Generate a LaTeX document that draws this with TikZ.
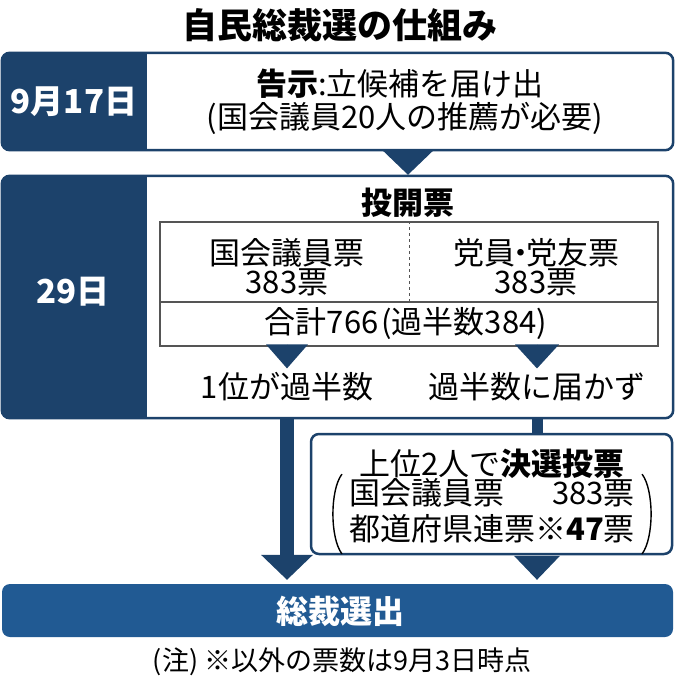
\documentclass[tikz,border=0pt]{standalone}
\usepackage{fontspec}
\setmainfont{Noto Sans CJK JP}
\usepackage{xcolor}
\usetikzlibrary{arrows.meta}
\definecolor{azulosc}{HTML}{1C426B}
\definecolor{azulmed}{HTML}{215A93}
\definecolor{gris}{HTML}{555555}

\begin{document}
\begin{tikzpicture}[x=1pt,y=-1pt,
  txt/.style={font=\fontsize{31}{29}\selectfont, inner sep=0pt, align=center},
  dia/.style={font=\bfseries\fontsize{33}{34}\selectfont, text=white, inner sep=0pt},
  caja/.style={draw=azulosc, line width=2.5pt, rounded corners=8pt},
  flecha/.style={draw=azulosc, line width=0.01pt, -{Triangle[width=#1,length=24pt,line width=0pt]}},
  flecha/.default=48pt]
\useasboundingbox (0,0) rectangle (680,680);

% Título
\node[font=\bfseries\fontsize{35}{36}\selectfont, inner sep=0pt] (titulo) at (340,25) {自民総裁選の仕組み};

% Caja 1: 告示
\node[minimum width=671pt, minimum height=97pt, inner sep=0pt] (caja1) at (337.5,101.5) {};
\begin{scope}
\clip[rounded corners=8pt] (caja1.north west) rectangle (caja1.south east);
\fill[azulosc] (caja1.north west) rectangle ([xshift=145pt]caja1.south west);
\end{scope}
\draw[caja] (caja1.north west) rectangle (caja1.south east);
\node[dia] (d1) at (74,102) {9月17日};
\node[txt] (aviso) at (400,84) {\textbf{告示}:立候補を届け出};
\node[txt] (suisen) at (405,118) {(国会議員20人の推薦が必要)};

% Caja 2: 投開票
\node[minimum width=671pt, minimum height=242pt, inner sep=0pt] (caja2) at (337.5,297) {};
\begin{scope}
\clip[rounded corners=8pt] (caja2.north west) rectangle (caja2.south east);
\fill[azulosc] (caja2.north west) rectangle ([xshift=145pt]caja2.south west);
\end{scope}
\draw[caja] (caja2.north west) rectangle (caja2.south east);
\node[dia] (d2) at (73,292) {29日};
\node[txt, font=\bfseries\fontsize{31}{29}\selectfont] (toukai) at (408,203) {投開票};

% Tabla
\node[draw=gris, line width=1.2pt, minimum width=498pt, minimum height=124pt, inner sep=0pt] (tabla) at (409,284) {};
\draw[gris, line width=1.2pt] ([yshift=-18pt]tabla.west) -- ([yshift=-18pt]tabla.east);
\draw[gris, line width=0.8pt, dashed] (tabla.north) -- ([yshift=-18pt]tabla.center);
\node[txt] (giin) at (287,267) {国会議員票\\383票};
\node[txt] (touin) at (536,267) {党員\kern-10pt・\kern-10pt党友票\\383票};
\node[txt] (goukei) at (406,323) {合計766\kern3pt(過半数384)};

% Resultados
\node[txt] (ichii) at (287,387) {1位が過半数};
\node[txt] (todokazu) at (537,387) {過半数に届かず};

% Caja 3: 決選投票
\node[caja, fill=white, minimum width=361pt, minimum height=120pt, inner sep=0pt] (caja3) at (491.5,494) {};
\node[txt] (kessen) at (492,464) {上位2人で\textbf{決選投票}};
\node[txt, font=\fontsize{31}{32}\selectfont] (uchiwake) at (492,514) {%
  \begin{tabular}{@{}l@{}r@{}}国会議員票 & 383票\\ 都道府県連票 & ※\textbf{47}票\end{tabular}};
\draw[line width=1.4pt] ([xshift=-7pt,yshift=4pt]uchiwake.north west) .. controls ([xshift=-19pt,yshift=-12pt]uchiwake.north west) and ([xshift=-19pt,yshift=12pt]uchiwake.south west) .. ([xshift=-7pt,yshift=-4pt]uchiwake.south west);
\draw[line width=1.4pt] ([xshift=7pt,yshift=4pt]uchiwake.north east) .. controls ([xshift=19pt,yshift=-12pt]uchiwake.north east) and ([xshift=19pt,yshift=12pt]uchiwake.south east) .. ([xshift=7pt,yshift=-4pt]uchiwake.south east);

% Caja 4: 総裁選出
\node[fill=azulmed, rounded corners=8pt, minimum width=671pt, minimum height=53pt, inner sep=0pt] (caja4) at (337.5,610.5) {};
\node[dia, font=\bfseries\fontsize{32}{34}\selectfont] (sousai) at (340,611) {総裁選出};

% Flechas
\draw[flecha=50pt] (toukai |- caja1.south) -- ([yshift=1pt]toukai |- caja2.north);
\draw[flecha=42pt] (ichii |- tabla.south) -- ([yshift=4pt]ichii.north);
\draw[flecha=44pt] (todokazu |- tabla.south) -- ([yshift=4pt]todokazu.north);
\draw[azulosc, line width=14pt, -{Triangle[width=52pt,length=25pt,line width=0pt]}, shorten >=4pt] ([yshift=1.2pt]ichii |- caja2.south) -- (ichii |- caja4.north);
\draw[azulosc, line width=11pt] ([yshift=1.2pt]todokazu |- caja2.south) -- ([yshift=-1.2pt]todokazu |- caja3.north);
\draw[flecha=46pt] ([yshift=-1.2pt]todokazu |- caja3.south) -- ([yshift=4pt]todokazu |- caja4.north);

% Nota
\node[txt, font=\fontsize{27}{28}\selectfont] (nota) at (342,662) {(注)\kern6pt※以外の票数は9月3日時点};
\end{tikzpicture}
\end{document}
